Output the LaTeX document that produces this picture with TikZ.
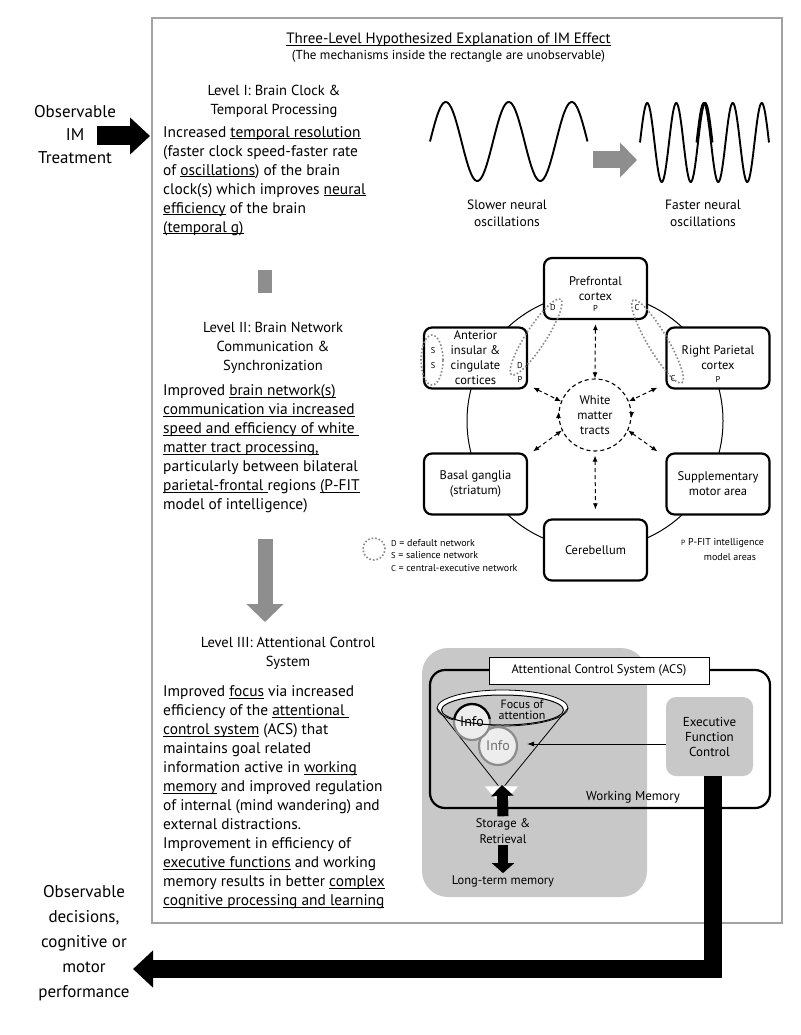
\documentclass[tikz,border=0pt]{standalone}
\usepackage{fontspec}
\setmainfont{PT Sans}
\usetikzlibrary{arrows.meta,calc}
\newcommand{\myul}[1]{\underline{\vphantom{A}\smash{#1}}}
\definecolor{regiongray}{HTML}{C8C8C8}
\definecolor{arrowgray}{HTML}{8E8E8E}
\definecolor{framegray}{HTML}{A3A3A3}
\definecolor{dotgray}{HTML}{8A8A8A}
\definecolor{infogray}{HTML}{8C8C8C}
\definecolor{infofill}{HTML}{EDEDED}
\begin{document}
\begin{tikzpicture}[x=1pt,y=-1pt,
  bodytext/.style={anchor=north west, inner sep=0pt, align=left, font=\fontsize{15.4}{19}\selectfont},
  headtext/.style={anchor=north, inner sep=0pt, align=center, font=\fontsize{14.5}{19}\selectfont},
  sidetext/.style={inner sep=0pt, align=center, font=\fontsize{17}{23}\selectfont},
  netbox/.style={draw, line width=2.2pt, rounded corners=8pt, fill=white, minimum width=103pt, minimum height=61pt, inner sep=1pt, align=center, font=\fontsize{12.5}{15}\selectfont},
  tinyletter/.style={inner sep=0pt, font=\fontsize{8.5}{9}\selectfont},
  netgroup/.style={draw=dotgray, dotted, line width=1.6pt},
  dasharrow/.style={dash pattern=on 4pt off 3pt, line width=1pt, {Latex[length=6pt,width=5pt]}-{Latex[length=6pt,width=5pt]}},
  grayarrow/.style={draw=arrowgray, line width=16pt, -{Triangle[length=18pt,width=34pt]}},
  bigarrow/.style={draw=black, line width=19pt, line join=miter, -{Triangle[length=20pt,width=36pt]}},
  wavestyle/.style={line width=1.9pt, line join=round},
  legendtext/.style={anchor=west, inner sep=0pt, font=\fontsize{10}{12}\selectfont},
]
\useasboundingbox (0,0) rectangle (800,1035);
\fill[white] (0,0) rectangle (800,1035);

% frame
\draw[framegray, line width=2pt] (152,18) rectangle (782,923);
\node[anchor=base, inner sep=0pt, font=\fontsize{15}{18}\selectfont] (title) at (448.5,43.5) {\myul{Three-Level Hypothesized Explanation of IM Effect}};
\node[anchor=base, inner sep=0pt, font=\fontsize{13}{14}\selectfont] (subtitle) at (448.5,60) {(The mechanisms inside the rectangle are unobservable)};

% side texts and input arrow
\node[sidetext] (obsin) at (75,135) {Observable\\IM\\Treatment};
\coordinate (inS) at (97,136);
\coordinate (inE) at (150,136);
\draw[bigarrow] (inS) -- (inE);

% Level I
\node[headtext] (lvlonehead) at (274,84.5) {Level I: Brain Clock \&\\Temporal Processing};
\node[bodytext] (lvlonebody) at (163,126) {Increased \myul{temporal resolution}\\(faster clock speed-faster rate\\of \myul{oscillations}) of the brain\\clock(s) which improves \myul{neural}\\\myul{efficiency} of the brain\\\myul{(temporal g)}};

% waves
\draw[wavestyle] plot[domain=430:587.5, samples=140] (\x,{141.5-39.5*sin((\x-430)*5.714286)});
\draw[wavestyle] plot[domain=640:712.5, samples=140] (\x,{142.5-39.5*sin((\x-640)*12.413793)});
\draw[wavestyle] plot[domain=696.5:769, samples=140] (\x,{142.5-39.5*sin((\x-696.5)*12.413793)});
\coordinate (oscS) at (593,160);
\coordinate (oscE) at (637,160);
\draw[grayarrow, line width=17pt, -{Triangle[length=17pt,width=34pt]}] (oscS) -- (oscE);
\node[align=center, inner sep=0pt, font=\fontsize{13.5}{17}\selectfont] (slowlbl) at (507,213) {Slower neural\\oscillations};
\node[align=center, inner sep=0pt, font=\fontsize{13.5}{17}\selectfont] (fastlbl) at (703,213) {Faster neural\\oscillations};

% Level I -> II bar
\coordinate (barA) at (265,270);
\coordinate (barB) at (265,293);
\draw[draw=arrowgray, line width=14pt] (barA) -- (barB);

% Level II
\node[headtext] (lvltwohead) at (273,321.5) {Level II: Brain Network\\Communication \&\\Synchronization};
\node[bodytext] (lvltwobody) at (163,384.5) {Improved \myul{brain network(s)}\\\myul{communication via increased}\\\myul{speed and efficiency of white\ }\\\myul{matter tract processing,}\\particularly between bilateral\\\myul{parietal-frontal\ }regions \myul{(P-FIT}\\model of intelligence)};

% network
\draw[line width=1pt] (595,421) circle[radius=128pt];
\node[netbox] (pfc) at (595.5,288.5) {Prefrontal\\cortex};
\node[netbox] (aic) at (475.5,358) {Anterior\\insular \&\\cingulate\\cortices};
\node[netbox] (rpc) at (718,358) {Right Parietal\\cortex};
\node[netbox] (bg) at (475.5,484) {Basal ganglia\\(striatum)};
\node[netbox] (sma) at (718,484) {Supplementary\\motor area};
\node[netbox] (cb) at (595.5,550) {Cerebellum};
\node[circle, draw, fill=white, dash pattern=on 4pt off 3pt, line width=1.1pt, minimum size=72pt, inner sep=0pt, align=center, font=\fontsize{12.5}{15}\selectfont] (wm) at (595,415) {White\\matter\\tracts};

\node[tinyletter] (pfcP) at (595.5,308) {P};
\node[tinyletter] (pfcD) at (553,308) {D};
\node[tinyletter] (pfcC) at (637,308) {C};
\node[tinyletter] (aicS1) at (433,351) {S};
\node[tinyletter] (aicS2) at (433,366) {S};
\node[tinyletter] (aicD) at (520,366) {D};
\node[tinyletter] (aicP) at (520,379) {P};
\node[tinyletter] (rpcC) at (673,379) {C};
\node[tinyletter] (rpcP) at (718,379) {P};

\draw[netgroup, rotate around={57:(536,337)}] (536,337) ellipse[x radius=45pt, y radius=10pt];
\draw[netgroup, rotate around={-59.4:(657.5,341.5)}] (657.5,341.5) ellipse[x radius=48pt, y radius=10pt];
\draw[netgroup] (432,360) ellipse[x radius=11pt, y radius=25pt];

\draw[dasharrow, shorten <=4pt] (pfc.south) -- (wm.north);
\draw[dasharrow] ($(aic.south east)+(5,-2)$) -- (wm.158);
\draw[dasharrow] ($(rpc.south west)+(-8,-2)$) -- (wm.22);
\draw[dasharrow] ($(bg.north east)+(5,-1)$) -- (wm.205);
\draw[dasharrow] ($(sma.north west)+(-8,-1)$) -- (wm.335);
\draw[dasharrow, shorten <=4pt, shorten >=9pt] (wm.south) -- (cb.north);
\draw[line width=1pt, -{Latex[length=6pt,width=5pt]}] ([yshift=-3pt]wm.west) -- ([yshift=3pt]wm.west);
\draw[line width=1pt, -{Latex[length=6pt,width=5pt]}] ([yshift=3pt]wm.east) -- ([yshift=-3pt]wm.east);

% legends
\draw[netgroup] (374,549) circle[radius=11pt];
\node[legendtext] (legD) at (391,543) {{\fontsize{8.5}{9}\selectfont D} = default network};
\node[legendtext] (legS) at (391,555.5) {{\fontsize{8.5}{9}\selectfont S} = salience network};
\node[legendtext] (legC) at (391,568) {{\fontsize{8.5}{9}\selectfont C} = central-executive network};
\node[legendtext] (pfita) at (681,543) {{\fontsize{7.5}{9}\selectfont P} P-FIT intelligence};
\node[inner sep=0pt, font=\fontsize{10}{12}\selectfont] (pfitb) at (730,557) {model areas};

% Level II -> III arrow
\coordinate (arrA) at (265,539);
\coordinate (arrB) at (265,622);
\draw[grayarrow, line width=15pt, -{Triangle[length=18pt,width=36pt]}] (arrA) -- (arrB);

% Level III
\node[headtext] (lvlthreehead) at (288,637) {Level III: Attentional Control\\System};
\node[bodytext] (lvlthreebody) at (163,685.5) {Improved \myul{focus} via increased\\efficiency of the \myul{attentional\ }\\\myul{control system} (ACS) that\\maintains goal related\\information active in \myul{working}\\\myul{memory} and improved regulation\\of internal (mind wandering) and\\external distractions.\\Improvement in efficiency of\\\myul{executive functions} and working\\memory results in better \myul{complex}\\\myul{cognitive processing and learning}};

% ACS diagram
\fill[regiongray, rounded corners=26pt] (422,648) rectangle (647,897);
\node[draw, line width=2.2pt, rounded corners=15pt, minimum width=340pt, minimum height=138pt, inner sep=0pt] (wmem) at (600,739) {};
\node[inner sep=0pt, font=\fontsize{13}{15}\selectfont] (wmlabel) at (633,797) {Working Memory};
\node[draw, line width=0.8pt, fill=white, minimum width=220pt, minimum height=27pt, inner sep=0pt, font=\fontsize{12.5}{15}\selectfont] (acs) at (599,670.5) {Attentional Control System (ACS)};
\node[fill=regiongray, rounded corners=10pt, minimum width=87pt, minimum height=79pt, inner sep=0pt, align=center, font=\fontsize{13}{15}\selectfont] (exec) at (709.5,736.5) {Executive\\Function\\Control};

% funnel
\draw[line width=0.8pt, fill=white] (502.5,708) ellipse[x radius=65.5pt, y radius=18pt];
\fill[regiongray] (502.5,710) ellipse[x radius=61pt, y radius=15pt];
\draw[line width=0.8pt] (437,708) -- (497,784) .. controls (499,789) and (504,789) .. (506,784) -- (568,708);
\node[circle, fill=infofill, draw=infogray, line width=2.2pt, minimum size=38pt, inner sep=0pt, text=infogray!80!black, font=\fontsize{14}{16}\selectfont] (infob) at (498,746) {Info};
\node[circle, fill=infofill, draw=infogray, line width=2.2pt, minimum size=36pt, inner sep=0pt, font=\fontsize{14}{16}\selectfont] (infoa) at (472,722) {Info};
\draw[line width=2.2pt] ($(infoa.center)+(170:18pt)$) arc[start angle=170, end angle=10, radius=18pt];
\draw[line width=1pt] (502.5,710) ellipse[x radius=61pt, y radius=15pt];
\node[align=center, inner sep=0pt, font=\fontsize{12}{11.5}\selectfont] (focus) at (522,710) {Focus of\\attention};

\coordinate (infotip) at (527,744);
\draw[line width=0.9pt, -{Latex[length=7pt,width=5pt]}] (exec.west |- infotip) -- (infotip);

\filldraw[fill=white, draw=gray!40, line width=0.6pt] (484,786) -- (519,786) -- (501.5,806) -- cycle;
\node[align=center, inner sep=0pt, font=\fontsize{12.5}{16}\selectfont] (storage) at (503,831) {Storage \&\\Retrieval};
\coordinate (neck) at (502,785);
\draw[line width=11pt, -{Triangle[length=11pt,width=22pt]}] ([yshift=2pt]storage.north) -- (neck);
\node[inner sep=0pt, font=\fontsize{12.5}{15}\selectfont] (ltm) at (503,881) {Long-term memory};
\draw[line width=10pt, -{Triangle[length=10pt,width=22pt]}, shorten <=1pt, shorten >=2pt] (storage.south) -- (ltm.north);

% output
\node[sidetext, font=\fontsize{17}{25}\selectfont] (obsout) at (84,943) {Observable\\decisions,\\cognitive or\\motor\\performance};
\coordinate (outE) at (133,969);
\draw[bigarrow, line width=18pt] ([xshift=3.5pt]exec.south) |- (outE);
\end{tikzpicture}
\end{document}
